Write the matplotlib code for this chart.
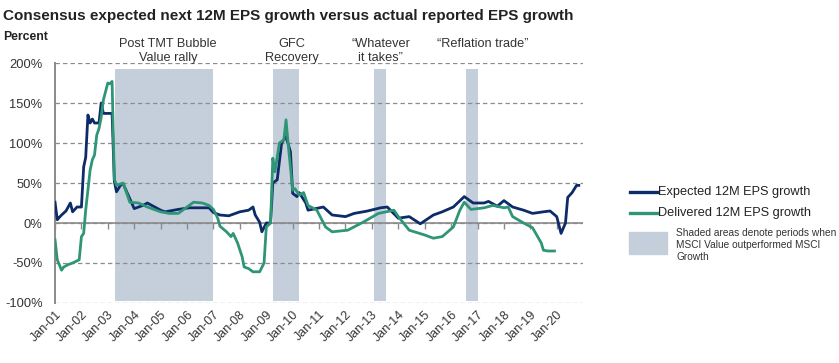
import matplotlib
matplotlib.use('Agg')

import matplotlib.pyplot as plt
import matplotlib.dates as mdates
from matplotlib.lines import Line2D
from matplotlib.patches import Rectangle
import pandas as pd

plt.rcParams['font.family'] = ['Liberation Sans', 'DejaVu Sans']

# expected 12M EPS growth (%)
exp_dates = ["2001-01", "2001-02", "2001-03", "2001-04", "2001-06", "2001-08", "2001-09", "2001-11",
             "2002-01", "2002-02", "2002-03", "2002-04", "2002-05", "2002-06", "2002-07", "2002-09",
             "2002-10", "2002-11", "2003-03", "2003-04", "2003-05", "2003-07", "2003-08", "2004-01",
             "2004-05", "2004-07", "2005-01", "2005-03", "2005-09", "2006-02", "2006-06", "2006-11",
             "2007-01", "2007-04", "2007-08", "2008-01", "2008-05", "2008-07", "2008-08", "2008-10",
             "2008-11", "2009-01", "2009-03", "2009-04", "2009-06", "2009-08", "2009-10", "2009-12",
             "2010-01", "2010-03", "2010-04", "2010-07", "2010-08", "2011-03", "2011-07", "2012-01",
             "2012-05", "2012-11", "2013-05", "2013-08", "2014-01", "2014-06", "2014-11", "2015-05",
             "2015-09", "2016-02", "2016-07", "2016-11", "2017-04", "2017-06", "2017-10", "2018-01",
             "2018-05", "2018-10", "2019-02", "2019-07", "2019-10", "2020-01", "2020-03", "2020-05",
             "2020-06", "2020-08", "2020-10", "2020-11"]
exp_vals = [26, 4, 7, 10, 15, 25, 14, 20,
            20, 70, 82, 135, 125, 130, 125, 125,
            150, 137, 137, 52, 39, 48, 49, 18,
            22, 25, 16, 14, 17, 19, 19, 19,
            13, 10, 9, 14, 16, 20, 10, 1,
            -11, 0, 0, 50, 54, 100, 108, 89,
            37, 33, 38, 25, 16, 20, 10, 8,
            12, 15, 19, 20, 6, 8, -1, 10,
            14, 20, 33, 25, 25, 27, 21, 28,
            20, 16, 12, 14, 15, 8, -13, 0,
            32, 38, 47, 47]

# delivered 12M EPS growth (%)
del_dates = ["2001-01", "2001-02", "2001-04", "2001-05", "2001-07", "2001-09", "2001-12", "2002-01",
             "2002-02", "2002-03", "2002-05", "2002-06", "2002-07", "2002-08", "2002-09", "2002-10",
             "2002-11", "2003-01", "2003-02", "2003-03", "2003-04", "2003-05", "2003-08", "2003-11",
             "2004-03", "2004-07", "2005-01", "2005-05", "2005-09", "2005-11", "2006-04", "2006-08",
             "2006-11", "2007-01", "2007-03", "2007-04", "2007-07", "2007-09", "2007-10", "2007-12",
             "2008-02", "2008-03", "2008-05", "2008-07", "2008-10", "2008-12", "2009-01", "2009-03",
             "2009-04", "2009-05", "2009-07", "2009-09", "2009-10", "2009-11", "2010-01", "2010-02",
             "2010-04", "2010-06", "2010-08", "2010-12", "2011-04", "2011-07", "2012-02", "2012-09",
             "2013-04", "2013-11", "2014-01", "2014-06", "2015-01", "2015-05", "2015-09", "2016-02",
             "2016-05", "2016-07", "2016-10", "2017-04", "2017-08", "2018-01", "2018-03", "2018-05",
             "2018-10", "2019-02", "2019-06", "2019-07", "2019-09", "2019-12"]
del_vals = [-21, -46, -59, -55, -52, -50, -46, -17,
            -13, 16, 66, 79, 85, 110, 118, 132,
            154, 175, 174, 177, 55, 47, 50, 26,
            25, 20, 14, 12, 12, 16, 26, 25,
            22, 17, 6, -4, -11, -17, -13, -25,
            -42, -55, -57, -61, -61, -50, -5, 0,
            81, 64, 100, 104, 129, 97, 41, 43,
            35, 38, 22, 16, -5, -11, -9, 1,
            12, 16, 8, -9, -15, -19, -17, -5,
            16, 26, 17, 19, 22, 19, 20, 8,
            0, -6, -25, -34, -35, -35]

# periods when MSCI Value outperformed MSCI Growth
shade_start = ["2003-04-10", "2009-04-05", "2013-02-01", "2016-08-01"]
shade_end = ["2006-12-20", "2010-04-01", "2013-07-15", "2017-01-05"]
shade_labels = ["Post TMT Bubble\nValue rally", "GFC\nRecovery", "\u201cWhatever\nit takes\u201d",
                "\u201cReflation trade\u201d"]
shade_label_x = ["2005-04-15", "2009-12-20", "2013-05-01", "2017-03-15"]

navy = '#0d2b68'
green = '#2e9677'
shade = '#c4cfdb'

fig = plt.figure(figsize=(8.39, 3.63), dpi=100)
ax = fig.add_axes([0.0656, 0.1653, 0.6295, 0.6611])

for s, e in zip(shade_start, shade_end):
    ax.fill_between(pd.to_datetime([s, e]), -97, 192, color=shade, lw=0, zorder=0.5)

ax.plot(pd.to_datetime(exp_dates), exp_vals, color=navy, lw=2.0, zorder=3)
ax.plot(pd.to_datetime(del_dates), del_vals, color=green, lw=2.0, zorder=3)

ax.set_ylim(-100, 200)
ax.set_yticks(range(-100, 201, 50))
ax.set_yticklabels([f"{v}%" for v in range(-100, 201, 50)])
ax.set_xlim(pd.Timestamp("2001-01-01"), pd.Timestamp("2021-01-01"))
years = pd.date_range("2001-01-01", "2020-01-01", freq="YS")
ax.set_xticks(years)
ax.xaxis.set_major_formatter(mdates.DateFormatter("%b-%y"))
plt.setp(ax.get_xticklabels(), rotation=45, ha='right', rotation_mode='anchor')
ax.tick_params(axis='x', length=0, pad=4, labelsize=9, colors='#333333')
ax.tick_params(axis='y', length=0, pad=9, labelsize=9.3, colors='#333333')

ax.set_axisbelow('line')
ax.grid(axis='y', color='#8c8c8c', linestyle=(0, (3.5, 2.5)), lw=0.9)
for sp in ['top', 'right', 'bottom']:
    ax.spines[sp].set_visible(False)
ax.spines['left'].set_color('#8a8a8a')
ax.spines['left'].set_linewidth(1.4)

# zero line with year ticks
ax.axhline(0, color='#8a8a8a', lw=1.2, zorder=2)
ax.plot(years, [0] * len(years), ls='', marker=3, ms=4, mew=1, color='#8a8a8a', zorder=2)

for lab, xs in zip(shade_labels, shade_label_x):
    ax.text(pd.Timestamp(xs), 1.05, lab, transform=ax.get_xaxis_transform(), ha='center', va='center',
            fontsize=9.2, color='#333333', linespacing=1.3)
ax.texts[-1].set_y(1.078)

fig.text(0.004, 0.957, "Consensus expected next 12M EPS growth versus actual reported EPS growth",
         fontsize=11, fontweight='bold', color='#222222', va='center')
fig.text(0.004, 0.897, "Percent", fontsize=8.8, fontweight='bold', color='#222222', va='center')

# legend
fig.add_artist(Line2D([0.751, 0.783], [0.471, 0.471], color=navy, lw=2.4, transform=fig.transFigure))
fig.add_artist(Line2D([0.751, 0.783], [0.413, 0.413], color=green, lw=2.4, transform=fig.transFigure))
fig.text(0.784, 0.471, "Expected 12M EPS growth", fontsize=9.2, color='#222222', va='center')
fig.text(0.784, 0.413, "Delivered 12M EPS growth", fontsize=9.2, color='#222222', va='center')
fig.add_artist(Rectangle((0.750, 0.300), 0.045, 0.062, color=shade, transform=fig.transFigure))
fig.text(0.806, 0.372, "Shaded areas denote periods when\nMSCI Value outperformed MSCI\nGrowth",
         fontsize=7.3, color='#333333', va='top', linespacing=1.25)

plt.savefig("out.png", dpi=100)
